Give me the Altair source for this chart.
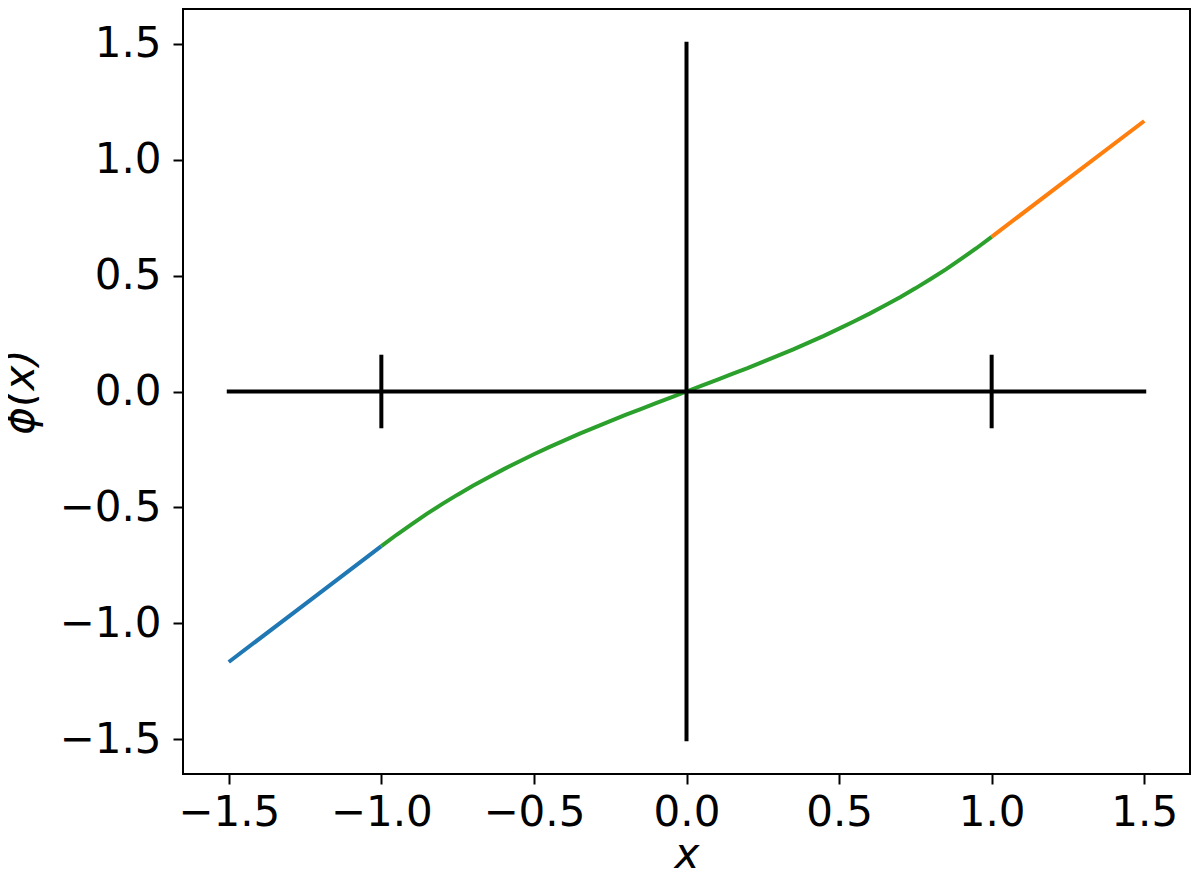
import altair as alt
import pandas as pd

# ---- data ----
x_left = [-1.5, -1.25, -1.0]
phi_left = [-1.167, -0.917, -0.667]

x_mid = [-1.0, -0.95, -0.9, -0.85, -0.8, -0.75, -0.7, -0.65, -0.6, -0.55, -0.5,
         -0.45, -0.4, -0.35, -0.3, -0.25, -0.2, -0.15, -0.1, -0.05, 0.0,
         0.05, 0.1, 0.15, 0.2, 0.25, 0.3, 0.35, 0.4, 0.45, 0.5,
         0.55, 0.6, 0.65, 0.7, 0.75, 0.8, 0.85, 0.9, 0.95, 1.0]
phi_mid = [-0.667, -0.618, -0.572, -0.527, -0.485, -0.445, -0.407, -0.371, -0.336, -0.303, -0.271,
           -0.240, -0.211, -0.182, -0.155, -0.128, -0.101, -0.076, -0.050, -0.025, 0.0,
           0.025, 0.050, 0.076, 0.101, 0.128, 0.155, 0.182, 0.211, 0.240, 0.271,
           0.303, 0.336, 0.371, 0.407, 0.445, 0.485, 0.527, 0.572, 0.618, 0.667]

x_right = [1.0, 1.25, 1.5]
phi_right = [0.667, 0.917, 1.167]

seg_names = ["left", "right", "mid"]
seg_colors = ["#1f77b4", "#ff7f0e", "#2ca02c"]

# black guide segments
vline_x = [0.0, -1.0, 1.0]
vline_y1 = [-1.5, -0.15, -0.15]
vline_y2 = [1.5, 0.15, 0.15]
hline_y = [0.0]
hline_x1 = [-1.5]
hline_x2 = [1.5]

tick_values = [-1.5, -1.0, -0.5, 0.0, 0.5, 1.0, 1.5]
axis_domain = [-1.65, 1.65]

# ---- tables ----
curve = pd.concat([
    pd.DataFrame({"x": x_left, "y": phi_left, "seg": "left"}),
    pd.DataFrame({"x": x_right, "y": phi_right, "seg": "right"}),
    pd.DataFrame({"x": x_mid, "y": phi_mid, "seg": "mid"}),
], ignore_index=True)
vlines = pd.DataFrame({"x": vline_x, "y": vline_y1, "y2": vline_y2})
hlines = pd.DataFrame({"y": hline_y, "x": hline_x1, "x2": hline_x2})

W, H = 1007, 765
xscale = alt.Scale(domain=axis_domain, nice=False, zero=False)
yscale = alt.Scale(domain=axis_domain, nice=False, zero=False)

xaxis = alt.Axis(values=tick_values, format=".1f", title="x",
                 titleX=W / 2, titleY=93, titleBaseline="alphabetic",
                 labelPadding=8)
yaxis = alt.Axis(values=tick_values, format=".1f", title="ɸ(x)",
                 titleX=-150, titleY=H / 2, titleBaseline="alphabetic",
                 labelPadding=12)

curves = alt.Chart(curve).mark_line(strokeWidth=4).encode(
    x=alt.X("x:Q", scale=xscale, axis=xaxis),
    y=alt.Y("y:Q", scale=yscale, axis=yaxis),
    color=alt.Color("seg:N", scale=alt.Scale(domain=seg_names, range=seg_colors), legend=None),
    detail="seg:N",
)

vrules = alt.Chart(vlines).mark_rule(color="black", strokeWidth=4, strokeCap="square").encode(
    x=alt.X("x:Q", scale=xscale, axis=xaxis),
    y=alt.Y("y:Q", scale=yscale, axis=yaxis),
    y2="y2:Q",
)

hrules = alt.Chart(hlines).mark_rule(color="black", strokeWidth=4, strokeCap="square").encode(
    y=alt.Y("y:Q", scale=yscale, axis=yaxis),
    x=alt.X("x:Q", scale=xscale, axis=xaxis),
    x2="x2:Q",
)

chart = alt.layer(curves, vrules, hrules).properties(
    width=W, height=H,
    autosize=alt.AutoSizeParams(type="none"),
    padding={"left": 175, "top": 1, "right": 1, "bottom": 96},
).configure_view(
    stroke="black", strokeWidth=2
).configure_axis(
    grid=False,
    domain=False,
    ticks=True,
    tickColor="black",
    tickWidth=2,
    tickSize=10,
    labelFont="DejaVu Sans",
    labelFontSize=42,
    labelColor="black",
    titleFont="DejaVu Sans",
    titleFontSize=42,
    titleFontWeight="normal",
    titleFontStyle="italic",
    titleColor="black",
)

chart.save("out.html", embed_options={"renderer": "svg", "actions": False})
